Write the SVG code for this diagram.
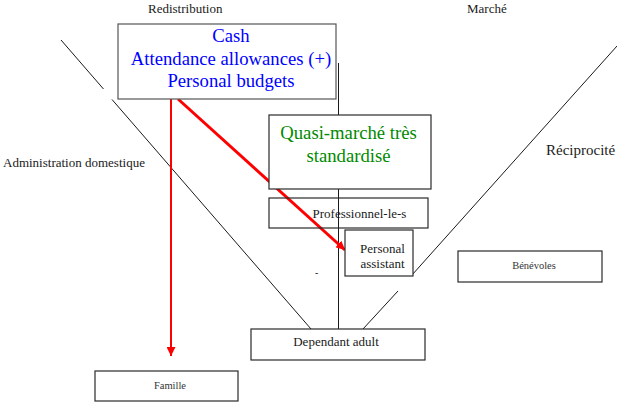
<svg xmlns="http://www.w3.org/2000/svg" width="617" height="405" viewBox="0 0 617 405">
  <defs>
    <style>
      .box { fill: #ffffff; stroke: #2a2a2a; stroke-width: 1.2; }
      .open { fill: none; stroke: #2a2a2a; stroke-width: 1.2; }
      .axis { stroke: #1a1a1a; stroke-width: 1; fill: none; }
      .flow { stroke: #ff0000; fill: none; }
      .c { text-anchor: middle; }
      .big { font-size: 18.7px; }
      .mid { font-size: 13px; }
      .small { font-size: 10.5px; fill: #333333; }
    </style>
    <marker id="redhead" viewBox="0 0 10 10" refX="10" refY="5" markerWidth="9" markerHeight="9" markerUnits="userSpaceOnUse" orient="auto">
      <path d="M0,0 L10,5 L0,10 Z" fill="#ff0000"/>
    </marker>
  </defs>

  <rect width="617" height="405" fill="#ffffff"/>

  <g font-family="'Liberation Serif', 'DejaVu Serif', 'Times New Roman', serif" fill="#1a1a1a">

  <!-- sector labels -->
  <g id="labels">
    <text class="mid" x="148" y="13">Redistribution</text>
    <text class="mid" x="467" y="13">Marché</text>
    <text x="546" y="155" font-size="15">Réciprocité</text>
    <text class="mid" x="3" y="167">Administration domestique</text>
    <text x="315" y="276" font-size="10">-</text>
  </g>

  <!-- connectors: axis lines and red flows -->
  <g id="connectors">
    <line class="axis" x1="61" y1="40" x2="103.5" y2="89"/>
    <line class="axis" x1="112" y1="99.5" x2="311" y2="329"/>
    <line class="axis" x1="617" y1="46" x2="412" y2="275"/>
    <line class="axis" x1="398" y1="291" x2="363" y2="329"/>
    <line class="axis" x1="338.5" y1="63" x2="338.5" y2="329"/>
    <line class="flow" stroke-width="2" x1="171" y1="99" x2="171" y2="356" marker-end="url(#redhead)"/>
    <line class="flow" stroke-width="3" x1="178" y1="99" x2="345" y2="250" marker-end="url(#redhead)"/>
  </g>

  <g id="cash">
    <rect class="box" x="118" y="24" width="218" height="75" style="stroke:#555"/>
    <text class="big c" x="231" y="42" fill="#0000ff">Cash</text>
    <text class="big c" x="231" y="65" fill="#0000ff">Attendance allowances (+)</text>
    <text class="big c" x="231" y="87" fill="#0000ff">Personal budgets</text>
  </g>

  <g id="quasi-marche">
    <rect class="box" x="269" y="115" width="162" height="74"/>
    <text class="big c" x="348.5" y="139" fill="#008a00">Quasi-marché très</text>
    <text class="big c" x="348.5" y="162" fill="#008a00">standardisé</text>
  </g>

  <g id="professionnels">
    <rect class="open" x="269" y="198" width="159" height="30"/>
    <text class="mid c" x="359.5" y="218">Professionnel-le-s</text>
  </g>

  <g id="personal-assistant">
    <rect class="box" x="345" y="230" width="68" height="46"/>
    <text class="mid c" x="382.5" y="253">Personal</text>
    <text class="mid c" x="382.5" y="268">assistant</text>
  </g>

  <g id="dependant-adult">
    <rect class="box" x="251" y="329" width="174" height="31"/>
    <text class="mid c" x="336" y="346">Dependant adult</text>
  </g>

  <g id="famille">
    <rect class="box" x="95" y="371" width="143" height="30"/>
    <text class="small c" x="170" y="389">Famille</text>
  </g>

  <g id="benevoles">
    <rect class="box" x="458" y="251" width="144" height="31"/>
    <text class="small c" x="534" y="269">Bénévoles</text>
  </g>

  </g>
</svg>
